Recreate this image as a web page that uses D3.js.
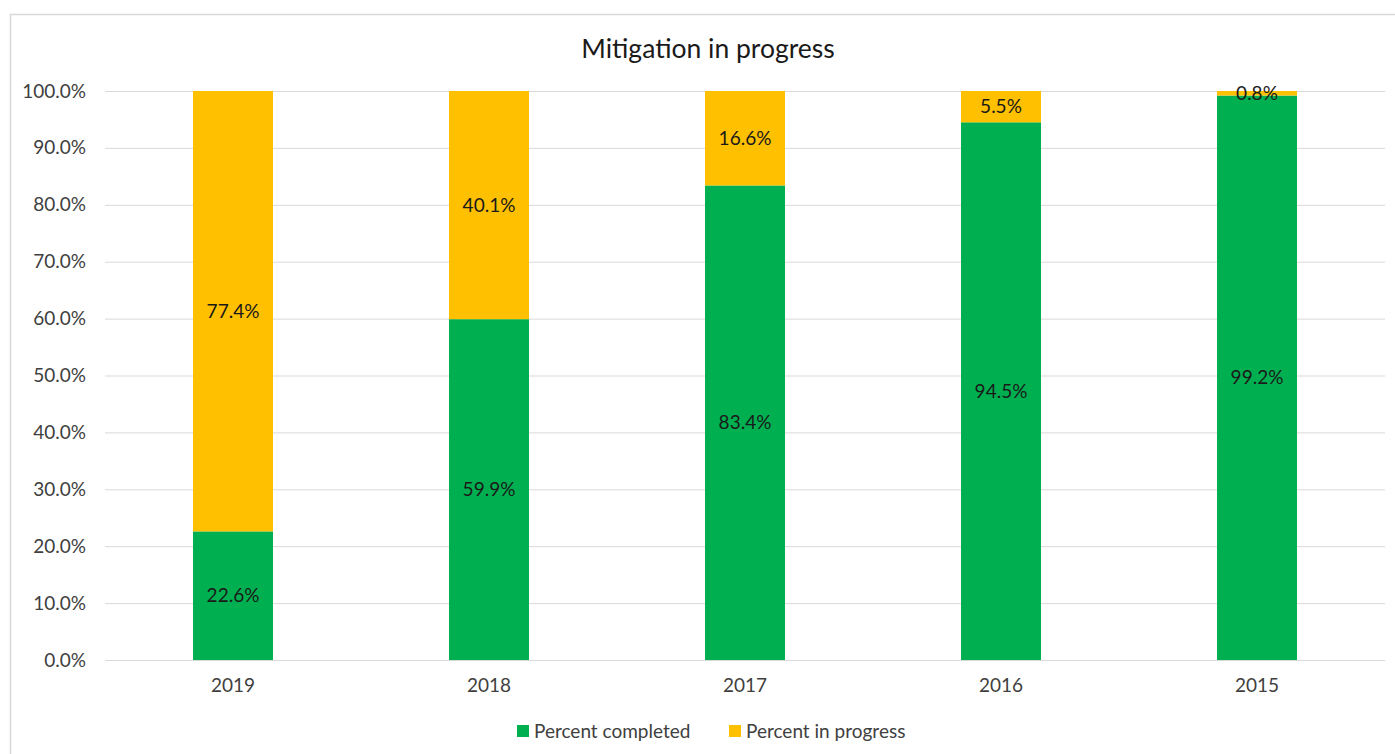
<!DOCTYPE html>
<html>
<head>
<meta charset="utf-8">
<script src="https://cdn.jsdelivr.net/npm/d3@7"></script>
<style>
  body { margin: 0; background: #fff; }
  text { font-family: Lato, "Liberation Sans", sans-serif; }
</style>
</head>
<body>
<div id="chart"></div>
<script>
// data
const years = ['2019', '2018', '2017', '2016', '2015'];
const completed = [22.6, 59.9, 83.4, 94.5, 99.2];
const inProgress = [77.4, 40.1, 16.6, 5.5, 0.8];
const seriesNames = ['Percent completed', 'Percent in progress'];
const yTicks = [0, 10, 20, 30, 40, 50, 60, 70, 80, 90, 100];

const width = 1395, height = 754;
const colors = ['#00B050', '#FFC000'];
const fontSize = '19px';

const svg = d3.select('#chart').append('svg')
    .attr('width', width)
    .attr('height', height);

// chart frame
svg.append('rect')
    .attr('x', 10.5).attr('y', 14.5)
    .attr('width', 1400).attr('height', 760)
    .attr('fill', 'none')
    .attr('stroke', '#d9d9d9')
    .attr('stroke-width', 1.5);

const margin = {top: 91, left: 105, right: 10, bottom: 94};
const w = width - margin.left - margin.right;
const h = height - margin.top - margin.bottom;

const g = svg.append('g')
    .attr('transform', `translate(${margin.left},${margin.top})`);

const x = d3.scaleBand()
    .domain(years)
    .range([0, w])
    .paddingInner(0.6875)
    .paddingOuter(0.34375);

const y = d3.scaleLinear()
    .domain([0, 100])
    .range([h, 0]);

// gridlines
g.append('g')
  .selectAll('line')
  .data(yTicks)
  .join('line')
    .attr('x1', 0).attr('x2', w)
    .attr('y1', d => y(d) + 0.5).attr('y2', d => y(d) + 0.5)
    .attr('stroke', '#d9d9d9')
    .attr('stroke-width', 1);

// y axis
const yAxis = g.append('g')
    .call(d3.axisLeft(y).tickValues(yTicks).tickSize(0).tickPadding(19)
      .tickFormat(d => d.toFixed(1) + '%'));
yAxis.select('.domain').remove();
yAxis.selectAll('text')
    .attr('fill', '#404040')
    .style('font-size', fontSize)
    .style('font-family', 'Lato, "Liberation Sans", sans-serif');

// x axis
const xAxis = g.append('g')
    .attr('transform', `translate(0,${h})`)
    .call(d3.axisBottom(x).tickSize(0).tickPadding(19));
xAxis.select('.domain').remove();
xAxis.selectAll('text')
    .attr('fill', '#404040')
    .style('font-size', fontSize)
    .style('font-family', 'Lato, "Liberation Sans", sans-serif');

// stacked bars
const table = years.map((yr, i) => ({year: yr, completed: completed[i], inProgress: inProgress[i]}));
const stack = d3.stack().keys(['completed', 'inProgress'])(table);

const layers = g.selectAll('.layer')
  .data(stack)
  .join('g')
    .attr('fill', (d, i) => colors[i]);

layers.selectAll('rect')
  .data(d => d)
  .join('rect')
    .attr('x', d => x(d.data.year))
    .attr('y', d => y(d[1]))
    .attr('width', x.bandwidth())
    .attr('height', d => y(d[0]) - y(d[1]));

layers.selectAll('text')
  .data(d => d)
  .join('text')
    .attr('x', d => x(d.data.year) + x.bandwidth() / 2)
    .attr('y', d => y((d[0] + d[1]) / 2))
    .attr('dy', '0.35em')
    .attr('text-anchor', 'middle')
    .attr('fill', '#1a1a1a')
    .style('font-size', fontSize)
    .text(d => (d[1] - d[0]).toFixed(1) + '%');

// title
svg.append('text')
    .attr('x', 708)
    .attr('y', 49)
    .attr('dy', '0.35em')
    .attr('text-anchor', 'middle')
    .attr('fill', '#1a1a1a')
    .style('font-size', '26.5px')
    .text('Mitigation in progress');

// legend
const legendX = [517, 729];
const legend = svg.append('g')
  .selectAll('g')
  .data(seriesNames)
  .join('g')
    .attr('transform', (d, i) => `translate(${legendX[i]},731)`);

legend.append('rect')
    .attr('x', 0).attr('y', -6)
    .attr('width', 12).attr('height', 12)
    .attr('fill', (d, i) => colors[i]);

legend.append('text')
    .attr('x', 17)
    .attr('dy', '0.35em')
    .attr('fill', '#404040')
    .style('font-size', fontSize)
    .text(d => d);
</script>
</body>
</html>
